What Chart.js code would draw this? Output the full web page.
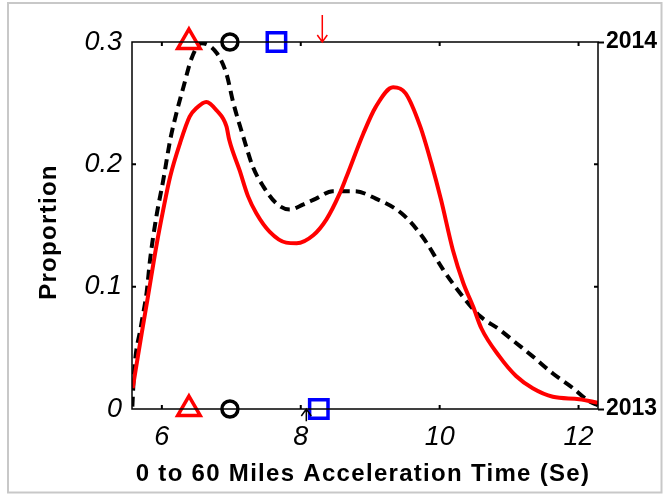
<!DOCTYPE html>
<html>
<head>
<meta charset="utf-8">
<title>Acceleration time distribution</title>
<script src="https://cdn.jsdelivr.net/npm/chart.js@4.4.1/dist/chart.umd.min.js"></script>
<style>
  body { margin: 0; background: #ffffff; }
  #accelChart { display: block; }
</style>
</head>
<body>
<canvas id="accelChart" width="663" height="494"></canvas>
<script>
// Axis ticks and labels
var xTicks = [6, 8, 10, 12];
var yTicks = [0, 0.1, 0.2, 0.3];
var yTickLabels = ['0', '0.1', '0.2', '0.3'];
var yearTicks = [0, 0.3];
var yearLabels = ['2013', '2014'];
var xTitle = '0 to 60 Miles Acceleration Time (Se)';
var yTitle = 'Proportion';

// Solid red density curve
var solidTime = [5.58, 5.71, 5.80, 5.92, 6.02, 6.12, 6.26, 6.40, 6.50, 6.64, 6.79, 6.93, 6.97, 7.12, 7.24, 7.36, 7.55, 7.79, 7.94, 8.18, 8.37, 8.56, 8.66, 8.90, 9.08, 9.33, 9.51, 9.72, 9.88, 10.02, 10.19, 10.34, 10.48, 10.60, 10.86, 11.10, 11.34, 11.63, 12.01, 12.28];
var solidProp = [0.017, 0.062, 0.092, 0.133, 0.163, 0.190, 0.217, 0.239, 0.246, 0.251, 0.244, 0.231, 0.220, 0.195, 0.174, 0.160, 0.145, 0.136, 0.1355, 0.142, 0.155, 0.176, 0.190, 0.225, 0.247, 0.263, 0.258, 0.231, 0.201, 0.171, 0.130, 0.103, 0.084, 0.066, 0.043, 0.027, 0.017, 0.010, 0.008, 0.005];

// Dashed black density curve
var dashedTime = [5.575, 5.60, 5.70, 5.78, 5.83, 5.92, 6.02, 6.12, 6.21, 6.31, 6.43, 6.57, 6.79, 6.93, 7.03, 7.17, 7.31, 7.46, 7.65, 7.84, 8.03, 8.22, 8.46, 8.78, 9.08, 9.45, 9.75, 10.05, 10.29, 10.58, 10.86, 11.10, 11.34, 11.63, 11.92, 12.16, 12.28];
var dashedProp = [0.002, 0.030, 0.068, 0.095, 0.122, 0.157, 0.187, 0.220, 0.242, 0.263, 0.287, 0.299, 0.291, 0.274, 0.250, 0.223, 0.198, 0.182, 0.168, 0.163, 0.167, 0.172, 0.178, 0.178, 0.172, 0.160, 0.141, 0.114, 0.095, 0.076, 0.065, 0.054, 0.043, 0.029, 0.017, 0.006, 0.003];

// Summary markers: first entry on the 2014 row (top), second on the 2013 row (bottom)
var markerRows = [0.3, 0];
var triangleX = [6.39, 6.39];
var circleX = [6.98, 6.98];
var squareX = [7.65, 8.26];

// Arrows: red one above the top row, black one below the bottom row
var arrowX = [8.31, 8.08];
var arrowFrom = [0.322, -0.010];
var arrowTo = [0.3, 0];
var arrowColors = ['#ff0000', '#000000'];

function toPoints(xs, ys) {
    var pts = [];
    for (var i = 0; i < xs.length; i++) {
        pts.push({ x: xs[i], y: ys[i] });
    }
    return pts;
}

function markerSet(xs, style, color, radius) {
    return {
        data: toPoints(xs, markerRows),
        showLine: false,
        pointStyle: style,
        pointRadius: radius,
        pointHoverRadius: radius,
        pointBorderWidth: 3.5,
        pointBorderColor: color,
        pointBackgroundColor: 'rgba(0,0,0,0)',
        clip: false
    };
}

// Frame, inward ticks, arrows, spaced axis titles and the light outer border
var framePlugin = {
    id: 'frame',
    afterDraw: function(chart) {
        var ctx = chart.ctx;
        var area = chart.chartArea;
        var xs = chart.scales.x;
        var ys = chart.scales.y;
        ctx.save();

        ctx.strokeStyle = '#c8c8c8';
        ctx.lineWidth = 2;
        ctx.strokeRect(8, 3, 653.5, 489.5);

        ctx.strokeStyle = '#000000';
        ctx.lineWidth = 1.5;
        ctx.strokeRect(area.left, area.top, area.right - area.left, area.bottom - area.top);

        ctx.lineWidth = 2;
        ctx.beginPath();
        xTicks.forEach(function(v) {
            var px = xs.getPixelForValue(v);
            ctx.moveTo(px, area.bottom);
            ctx.lineTo(px, area.bottom - 4);
            ctx.moveTo(px, area.top);
            ctx.lineTo(px, area.top + 4);
        });
        yTicks.slice(1, 3).forEach(function(v) {
            var py = ys.getPixelForValue(v);
            ctx.moveTo(area.left, py);
            ctx.lineTo(area.left + 4, py);
            ctx.moveTo(area.right, py);
            ctx.lineTo(area.right - 4, py);
        });
        ctx.stroke();

        for (var i = 0; i < arrowX.length; i++) {
            var ax = xs.getPixelForValue(arrowX[i]);
            var y0 = ys.getPixelForValue(arrowFrom[i]);
            var y1 = ys.getPixelForValue(arrowTo[i]);
            var dir = y1 > y0 ? -1 : 1;
            ctx.strokeStyle = arrowColors[i];
            ctx.lineWidth = 1.5;
            ctx.beginPath();
            ctx.moveTo(ax, y0);
            ctx.lineTo(ax, y1);
            ctx.moveTo(ax - 5, y1 + dir * 7);
            ctx.lineTo(ax, y1);
            ctx.lineTo(ax + 5, y1 + dir * 7);
            ctx.stroke();
        }

        // axis titles, drawn here so the letters can be spaced out
        ctx.fillStyle = '#000000';
        ctx.font = 'bold 24px "Liberation Sans"';
        ctx.letterSpacing = '1.3px';
        ctx.textAlign = 'center';
        ctx.textBaseline = 'middle';
        ctx.fillText(xTitle, (area.left + area.right) / 2 - 2, 474);
        ctx.translate(49, 232);
        ctx.rotate(-Math.PI / 2);
        ctx.fillText(yTitle, 0, 0);
        ctx.restore();
    }
};

var tickFont = { family: 'Liberation Sans', size: 27, style: 'italic' };
var boldFont = { family: 'Liberation Sans', size: 23, weight: 'bold' };

var ctx1 = document.getElementById('accelChart').getContext('2d');
var accelChart = new Chart(ctx1, {
    type: 'scatter',
    data: {
        datasets: [
            markerSet(triangleX, 'triangle', '#ff0000', 13),
            markerSet(circleX, 'circle', '#000000', 8),
            markerSet(squareX, 'rect', '#0000ff', 13),
            {
                data: toPoints(solidTime, solidProp),
                showLine: true,
                borderColor: '#ff0000',
                borderWidth: 4,
                pointRadius: 0,
                cubicInterpolationMode: 'monotone'
            },
            {
                data: toPoints(dashedTime, dashedProp),
                showLine: true,
                borderColor: '#000000',
                borderWidth: 4,
                borderDash: [10, 6],
                pointRadius: 0,
                cubicInterpolationMode: 'monotone'
            }
        ]
    },
    options: {
        responsive: false,
        animation: false,
        devicePixelRatio: 1,
        layout: { padding: { top: 42, left: 0, right: 0, bottom: 0 } },
        plugins: {
            legend: { display: false },
            tooltip: { enabled: false }
        },
        scales: {
            x: {
                type: 'linear',
                position: 'bottom',
                min: 5.57,
                max: 12.28,
                afterBuildTicks: function(scale) {
                    scale.ticks = xTicks.map(function(v) { return { value: v }; });
                },
                afterFit: function(scale) { scale.height = 85; },
                grid: { display: false, drawTicks: false },
                border: { display: false },
                ticks: {
                    color: '#000000',
                    font: tickFont,
                    padding: 12,
                    maxRotation: 0,
                    callback: function(v) { return String(v); }
                }
            },
            y: {
                position: 'left',
                min: 0,
                max: 0.3,
                afterBuildTicks: function(scale) {
                    scale.ticks = yTicks.map(function(v) { return { value: v }; });
                },
                afterFit: function(scale) { scale.width = 132; },
                grid: { display: false, drawTicks: false },
                border: { display: false },
                ticks: {
                    color: '#000000',
                    font: tickFont,
                    padding: 10,
                    callback: function(v) { return yTickLabels[yTicks.indexOf(v)]; }
                }
            },
            y2: {
                position: 'right',
                min: 0,
                max: 0.3,
                afterBuildTicks: function(scale) {
                    scale.ticks = yearTicks.map(function(v) { return { value: v }; });
                },
                afterFit: function(scale) { scale.width = 65; },
                grid: {
                    drawOnChartArea: false,
                    drawTicks: true,
                    tickLength: 6,
                    tickWidth: 2,
                    tickColor: '#000000'
                },
                border: { display: false },
                ticks: {
                    color: '#000000',
                    font: boldFont,
                    padding: 2,
                    callback: function(v) { return yearLabels[yearTicks.indexOf(v)]; }
                }
            }
        }
    },
    plugins: [framePlugin]
});
</script>
</body>
</html>
